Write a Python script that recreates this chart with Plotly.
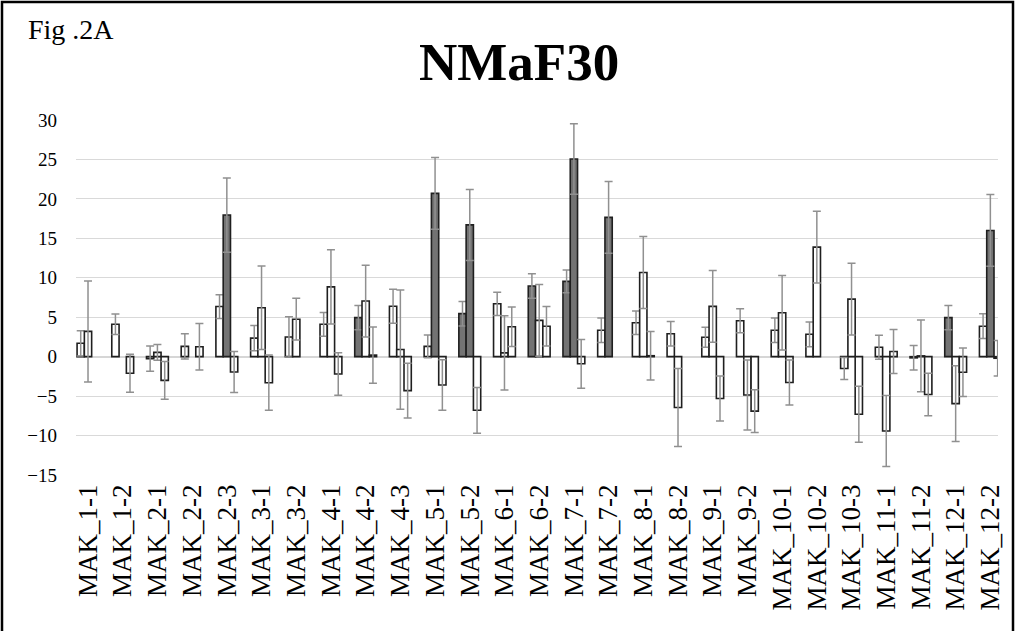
import plotly.graph_objects as go

categories = ["MAK_1-1", "MAK_1-2", "MAK_2-1", "MAK_2-2", "MAK_2-3", "MAK_3-1", "MAK_3-2",
              "MAK_4-1", "MAK_4-2", "MAK_4-3", "MAK_5-1", "MAK_5-2", "MAK_6-1", "MAK_6-2",
              "MAK_7-1", "MAK_7-2", "MAK_8-1", "MAK_8-2", "MAK_9-1", "MAK_9-2", "MAK_10-1",
              "MAK_10-2", "MAK_10-3", "MAK_11-1", "MAK_11-2", "MAK_12-1", "MAK_12-2"]

s1 = [1.7, 4.1, -0.25, 1.3, 6.35, 2.35, 2.5, 4.1, 4.95, 6.4, 1.3, 5.45, 6.7, 8.95,
      9.55, 3.35, 4.3, 2.9, 2.46, 4.55, 3.35, 2.84, -1.5, 1.2, -0.15, 4.95, 3.86]
e1 = [1.6, 1.3, 1.6, 1.6, 1.5, 1.6, 2.55, 1.5, 1.55, 2.16, 1.45, 1.55, 1.47, 1.55,
      1.45, 1.55, 1.48, 1.56, 1.27, 1.52, 1.55, 1.57, 1.4, 1.52, 1.55, 1.55, 1.57]
sig1 = [0, 0, 0, 0, 0, 0, 0, 0, 1, 0, 0, 1, 0, 1, 1, 0, 0, 0, 0, 0, 0, 0, 0, 0, 0, 1, 0]

s2 = [3.2, None, 0.55, None, 17.95, 6.2, 4.75, 8.85, 7.05, 0.9, 20.7, 16.7, 0.48, 4.6,
      25.05, 17.66, 10.66, -6.45, 6.37, -4.85, 5.57, 13.88, 7.3, -9.43, 0.1, -5.95, 16.0]
e2 = [6.4, None, 1.0, None, 4.7, 5.3, 2.65, 4.7, 4.55, 7.55, 4.55, 4.5, 4.72, 4.55,
      4.46, 4.55, 4.57, 4.94, 4.55, 4.43, 4.72, 4.55, 4.55, 4.5, 4.55, 4.8, 4.55]
sig2 = [0, 0, 0, 0, 1, 0, 0, 0, 0, 0, 1, 1, 0, 0, 1, 1, 0, 0, 0, 0, 0, 0, 0, 0, 0, 0, 1]

s3 = [None, -2.1, -3.0, 1.25, -1.95, -3.3, None, -2.2, 0.2, -4.3, -3.6, -6.8, 3.8, 3.85,
      -0.9, None, 0.12, None, -5.3, -6.9, -3.28, None, -7.3, 0.66, -4.8, -1.97, -0.2]
e3 = [None, 2.4, 2.4, 2.95, 2.6, 3.5, None, 2.7, 3.56, 3.47, 3.2, 2.9, 2.5, 2.5,
      3.09, None, 3.08, None, 2.84, 2.7, 2.86, None, 3.56, 2.78, 2.7, 3.07, 2.25]
sig3 = [0] * 27

y_ticks = [-15, -10, -5, 0, 5, 10, 15, 20, 25, 30]

DARK = "#737373"
LIGHT = "#ffffff"
EDGE = "#1f1f1f"
ERR = "#909090"
FONT = "Liberation Serif"

fig = go.Figure()
for vals, errs, sig in [(s1, e1, sig1), (s2, e2, sig2), (s3, e3, sig3)]:
    fig.add_trace(go.Bar(
        x=categories, y=vals,
        marker=dict(color=[DARK if s else LIGHT for s in sig],
                    line=dict(color=EDGE, width=1.6)),
        error_y=dict(type="data", array=errs, visible=True,
                     color=ERR, thickness=1.5, width=4),
        showlegend=False,
    ))

W, H = 1016, 631
L, R, T, B = 76, 18, 120, 156
pw, ph = W - L - R, H - T - B

def px_x(px):
    return (px - L) / pw

def px_y(py):
    return (H - B - py) / ph

fig.update_layout(
    width=W, height=H,
    margin=dict(l=L, r=R, t=T, b=B, pad=0),
    paper_bgcolor="white", plot_bgcolor="white",
    barmode="group", bargap=0.37, bargroupgap=0,
    font=dict(family=FONT, color="black"),
    xaxis=dict(range=[-0.346, 26.22], showgrid=False, showline=False, ticks="",
               tickangle=-90, tickfont=dict(family=FONT, size=27, color="black"),
               ticklabelstandoff=3),
    yaxis=dict(range=[-15, 30], tickvals=y_ticks, showgrid=True, gridcolor="#d9d9d9",
               gridwidth=1, zeroline=True, zerolinecolor="#d6d6d6", zerolinewidth=2,
               showline=False, ticks="", tickfont=dict(family=FONT, size=19, color="black"),
               ticklabelstandoff=18),
    annotations=[
        dict(text="<b>NMaF30</b>", xref="paper", yref="paper",
             x=px_x(519), y=px_y(62), xanchor="center", yanchor="middle",
             showarrow=False, font=dict(family=FONT, size=53, color="black")),
        dict(text="Fig .2A", xref="paper", yref="paper",
             x=px_x(26), y=px_y(30), xanchor="left", yanchor="middle",
             showarrow=False, font=dict(family=FONT, size=28, color="black")),
    ],
    shapes=[
        dict(type="rect", xref="paper", yref="paper",
             x0=px_x(2), x1=px_x(1013), y0=px_y(640), y1=px_y(2),
             line=dict(color="black", width=2.5), fillcolor="rgba(0,0,0,0)", layer="above"),
    ],
)

fig.write_html("out.html", config={"displayModeBar": False},
               post_script="document.body.style.margin='0';document.body.style.overflow='hidden';")
